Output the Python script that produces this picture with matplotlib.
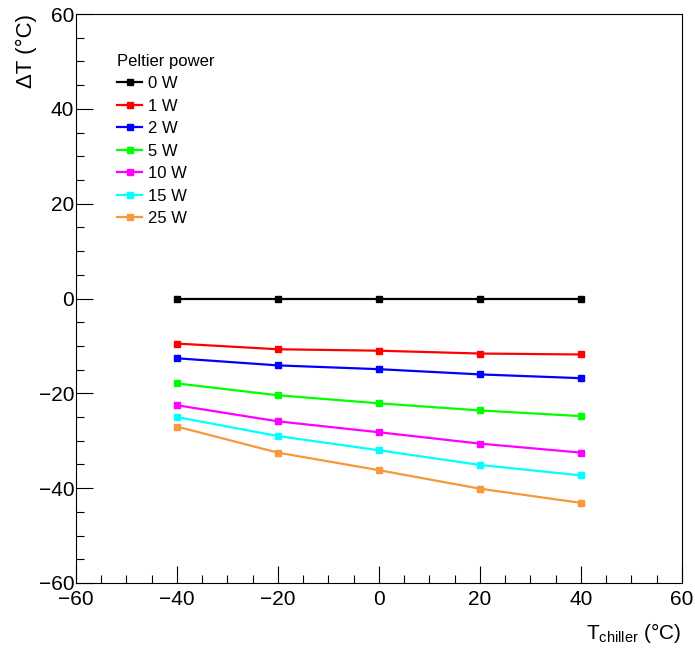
import matplotlib.pyplot as plt
from matplotlib.ticker import MultipleLocator

plt.rcParams['font.family'] = ['Liberation Sans', 'DejaVu Sans']

# chiller temperatures and temperature difference per Peltier power
t_chiller = [-40, -20, 0, 20, 40]
labels = ["0 W", "1 W", "2 W", "5 W", "10 W", "15 W", "25 W"]
dt_0w = [0.0, 0.0, 0.0, 0.0, 0.0]
dt_1w = [-9.5, -10.7, -11.0, -11.6, -11.8]
dt_2w = [-12.6, -14.1, -14.9, -16.0, -16.8]
dt_5w = [-17.9, -20.4, -22.1, -23.6, -24.8]
dt_10w = [-22.5, -25.9, -28.2, -30.6, -32.5]
dt_15w = [-25.0, -29.0, -32.0, -35.1, -37.3]
dt_25w = [-27.0, -32.5, -36.2, -40.1, -43.1]
series = [dt_0w, dt_1w, dt_2w, dt_5w, dt_10w, dt_15w, dt_25w]
colors = ["black", "#ff0000", "#0000ff", "#00ff00", "#ff00ff", "#00ffff", "#f7983a"]

fig = plt.figure(figsize=(6.95, 6.49), dpi=100)
ax = fig.add_axes([0.109, 0.1017, 0.872, 0.8766])

for y, lab, c in zip(series, labels, colors):
    ax.plot(t_chiller, y, color=c, lw=1.6, marker="s", ms=5, label=lab)

ax.set_xlim(-60, 60)
ax.set_ylim(-60, 60)
ax.xaxis.set_major_locator(MultipleLocator(20))
ax.xaxis.set_minor_locator(MultipleLocator(5))
ax.yaxis.set_major_locator(MultipleLocator(20))
ax.yaxis.set_minor_locator(MultipleLocator(5))
ax.tick_params(which="both", direction="in", labelsize=15)
ax.tick_params(axis="x", pad=5)
ax.tick_params(axis="y", pad=1)
ax.tick_params(which="major", length=12, width=0.8)
ax.tick_params(which="minor", length=6, width=0.8)
for s in ax.spines.values():
    s.set_linewidth(0.8)

ax.set_xlabel(r"T$_{\mathregular{chiller}}$ (°C)", fontsize=15, loc="right", labelpad=9)
ax.set_ylabel("ΔT (°C)", fontsize=16, loc="top", labelpad=1)

leg = ax.legend(title="Peltier power", loc="upper left", bbox_to_anchor=(0.055, 0.945),
                frameon=False, fontsize=12, title_fontsize=12, handlelength=1.5,
                handletextpad=0.35, labelspacing=0.45, borderpad=0)
leg._legend_box.align = "left"

fig.savefig("out.png", dpi=100)
